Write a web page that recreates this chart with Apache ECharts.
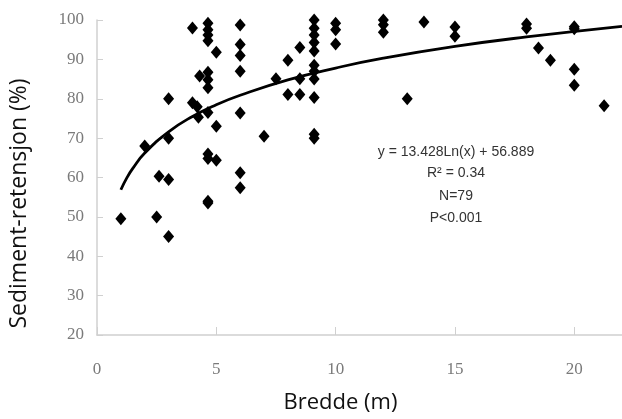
<!DOCTYPE html>
<html>
<head>
<meta charset="utf-8">
<script src="https://cdn.jsdelivr.net/npm/echarts@6/dist/echarts.min.js"></script>
<style>html,body{margin:0;padding:0;background:#fff}#c{width:622px;height:419px}</style>
</head>
<body>
<div id="c"></div>
<script>
// Scatter data (x = Bredde, y = Sediment-retensjon)
var widthX = [1, 2, 2.5, 2.6, 3, 3, 3, 3, 4, 4, 4.2, 4.25, 4.3,
  4.65, 4.65, 4.65, 4.65, 4.65, 4.65, 4.65, 4.65, 4.65, 4.65, 4.65, 4.65,
  5, 5, 5, 6, 6, 6, 6, 6, 6, 6, 7, 7.5, 8, 8, 8.5, 8.5, 8.5,
  9.1, 9.1, 9.1, 9.1, 9.1, 9.1, 9.1, 9.1, 9.1, 9.1, 9.1,
  10, 10, 10, 12, 12, 12, 13, 13.7, 15, 15, 18, 18, 18, 18.5, 19,
  20, 20, 20, 20, 21.25];
var retention = [49.5, 68, 50, 60.3, 80, 70, 59.5, 45, 98, 79, 78, 75.3, 85.8,
  99.2, 97.5, 96.2, 94.7, 86.7, 84.8, 82.8, 76.5, 66, 64.8, 54, 53.5,
  91.8, 73, 64.4, 98.7, 93.8, 91, 87, 76.4, 61.2, 57.4, 70.5, 85.1, 89.8, 81.1, 93, 85.1, 81.1,
  100, 97.9, 96.2, 94.3, 92.1, 88.5, 87, 85, 80.3, 71, 70,
  99.2, 97.5, 93.9, 100, 98.8, 96.9, 80, 99.5, 98.2, 95.9, 100.2, 99, 97.9, 92.9, 89.8,
  98.3, 97.8, 87.5, 83.4, 78.2];

// Fitted trend line values
var trendX = [1, 1.25, 1.5, 2, 3, 4, 5, 6, 8, 10, 12, 15, 18, 22];
var trendY = [56.9, 59.9, 62.3, 66.2, 71.6, 75.5, 78.5, 80.9, 84.8, 87.8, 90.3, 93.3, 95.7, 98.4];

var xTicks = [0, 5, 10, 15, 20];
var yTicks = [20, 30, 40, 50, 60, 70, 80, 90, 100];

var annotationLines = ['y = 13.428Ln(x) + 56.889', 'R\u00b2 = 0.34', 'N=79', 'P<0.001'];

var scatterData = widthX.map(function (x, i) { return [x, retention[i]]; });
var trendData = trendX.map(function (x, i) { return [x, trendY[i]]; });

var chart = echarts.init(document.getElementById('c'), null, { renderer: 'canvas' });
var labelFont = { fontFamily: 'Liberation Serif', fontSize: 17, color: '#7a7a7a' };
var annTops = [145, 166, 189, 211];
chart.setOption({
  animation: false,
  backgroundColor: '#fff',
  grid: { left: 96, right: 0, top: 20, bottom: 81, containLabel: false },
  xAxis: {
    type: 'value', min: 0, max: 22, interval: 5,
    name: 'Bredde (m)', nameLocation: 'middle', nameGap: 57,
    nameTextStyle: { fontFamily: 'Open Sans', fontSize: 22, color: '#111', padding: [0, 38, 0, 0] },
    axisLine: { show: true, lineStyle: { color: '#d0d0d0', width: 1.5 } },
    axisTick: { show: true, inside: true, length: 8, lineStyle: { color: '#d0d0d0' } },
    axisLabel: Object.assign({ margin: 26, showMaxLabel: false,
      formatter: function (v) { return xTicks.indexOf(v) >= 0 ? String(v) : ''; } }, labelFont),
    splitLine: { show: false }
  },
  yAxis: {
    type: 'value', min: 20, max: 100, interval: 10,
    name: 'Sediment-retensjon (%)', nameLocation: 'middle', nameGap: 66, nameRotate: 90,
    nameTextStyle: { fontFamily: 'Open Sans', fontSize: 23, color: '#111', padding: [0, 52, 0, 0] },
    axisLine: { show: true, lineStyle: { color: '#d0d0d0', width: 1.5 } },
    axisTick: { show: true, inside: true, length: 6, lineStyle: { color: '#d0d0d0' } },
    axisLabel: Object.assign({ margin: 13,
      formatter: function (v) { return yTicks.indexOf(v) >= 0 ? String(v) : ''; } }, labelFont),
    splitLine: { show: false }
  },
  series: [
    {
      type: 'line', data: trendData, smooth: true, showSymbol: false, z: 3,
      lineStyle: { color: '#000', width: 2.8 }
    },
    {
      type: 'scatter', data: scatterData, symbol: 'diamond', symbolSize: [11, 13], z: 4,
      itemStyle: { color: '#000', opacity: 1 }
    }
  ],
  graphic: annotationLines.map(function (t, i) {
    return { type: 'text', x: 456, y: annTops[i],
      style: { text: t, fontFamily: 'Liberation Sans', fontSize: 14, fill: '#333', textAlign: 'center', textVerticalAlign: 'top' } };
  })
});
</script>
</body>
</html>
